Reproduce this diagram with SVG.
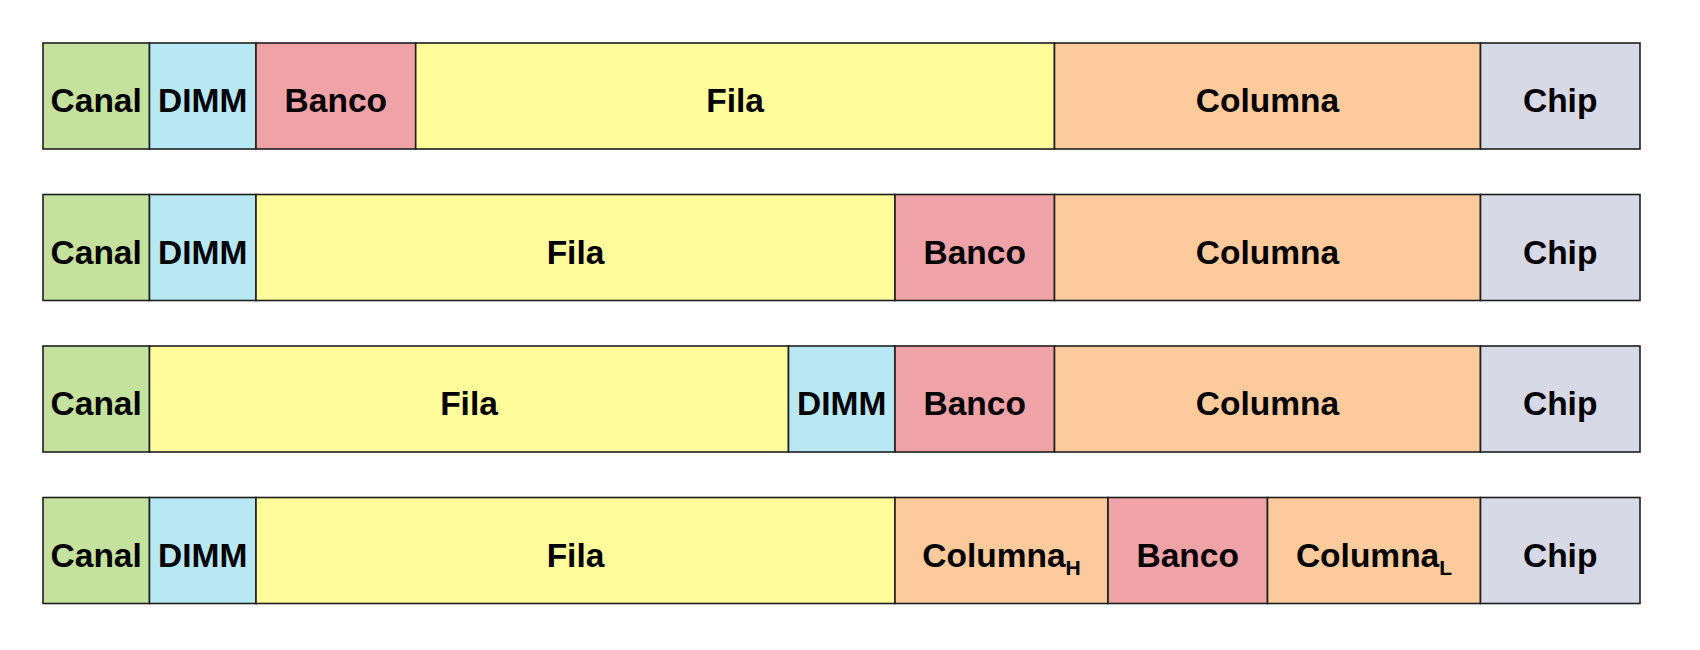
<svg xmlns="http://www.w3.org/2000/svg" width="1700" height="650" viewBox="0 0 1700 650">
<style>
.b{stroke:#1e1e1e;stroke-width:1.6}
.canal{fill:#C4E29D}
.dimm{fill:#B7E8F3}
.banco{fill:#F0A3A7}
.fila{fill:#FFFC9C}
.col{fill:#FDCA9C}
.chip{fill:#D8D9E6}
text{font-family:"Liberation Sans",Arial,sans-serif;font-weight:bold;font-size:33.5px;fill:#000;text-anchor:middle}
.sub{font-size:21px}
</style>
<rect width="1700" height="650" fill="#fff"/>
<g id="row1">
<g id="r1-canal"><rect class="b canal" x="43" y="43" width="106.5" height="106"/><text x="96.2" y="112">Canal</text></g>
<g id="r1-dimm"><rect class="b dimm" x="149.5" y="43" width="106.5" height="106"/><text x="202.7" y="112">DIMM</text></g>
<g id="r1-banco"><rect class="b banco" x="256" y="43" width="159.7" height="106"/><text x="335.8" y="112">Banco</text></g>
<g id="r1-fila"><rect class="b fila" x="415.7" y="43" width="638.8" height="106"/><text x="735.1" y="112">Fila</text></g>
<g id="r1-columna"><rect class="b col" x="1054.5" y="43" width="426" height="106"/><text x="1267.5" y="112">Columna</text></g>
<g id="r1-chip"><rect class="b chip" x="1480.5" y="43" width="159.5" height="106"/><text x="1560.2" y="112">Chip</text></g>
</g>
<g id="row2">
<g id="r2-canal"><rect class="b canal" x="43" y="194.5" width="106.5" height="106"/><text x="96.2" y="263.5">Canal</text></g>
<g id="r2-dimm"><rect class="b dimm" x="149.5" y="194.5" width="106.5" height="106"/><text x="202.7" y="263.5">DIMM</text></g>
<g id="r2-fila"><rect class="b fila" x="256" y="194.5" width="639" height="106"/><text x="575.5" y="263.5">Fila</text></g>
<g id="r2-banco"><rect class="b banco" x="895" y="194.5" width="159.5" height="106"/><text x="974.7" y="263.5">Banco</text></g>
<g id="r2-columna"><rect class="b col" x="1054.5" y="194.5" width="426" height="106"/><text x="1267.5" y="263.5">Columna</text></g>
<g id="r2-chip"><rect class="b chip" x="1480.5" y="194.5" width="159.5" height="106"/><text x="1560.2" y="263.5">Chip</text></g>
</g>
<g id="row3">
<g id="r3-canal"><rect class="b canal" x="43" y="346" width="106.5" height="106"/><text x="96.2" y="415">Canal</text></g>
<g id="r3-fila"><rect class="b fila" x="149.5" y="346" width="639" height="106"/><text x="469" y="415">Fila</text></g>
<g id="r3-dimm"><rect class="b dimm" x="788.5" y="346" width="106.5" height="106"/><text x="841.7" y="415">DIMM</text></g>
<g id="r3-banco"><rect class="b banco" x="895" y="346" width="159.5" height="106"/><text x="974.7" y="415">Banco</text></g>
<g id="r3-columna"><rect class="b col" x="1054.5" y="346" width="426" height="106"/><text x="1267.5" y="415">Columna</text></g>
<g id="r3-chip"><rect class="b chip" x="1480.5" y="346" width="159.5" height="106"/><text x="1560.2" y="415">Chip</text></g>
</g>
<g id="row4">
<g id="r4-canal"><rect class="b canal" x="43" y="497.5" width="106.5" height="106"/><text x="96.2" y="566.5">Canal</text></g>
<g id="r4-dimm"><rect class="b dimm" x="149.5" y="497.5" width="106.5" height="106"/><text x="202.7" y="566.5">DIMM</text></g>
<g id="r4-fila"><rect class="b fila" x="256" y="497.5" width="639" height="106"/><text x="575.5" y="566.5">Fila</text></g>
<g id="r4-columnaH"><rect class="b col" x="895" y="497.5" width="213" height="106"/><text x="1001.5" y="566.5">Columna<tspan class="sub" dy="8">H</tspan></text></g>
<g id="r4-banco"><rect class="b banco" x="1108" y="497.5" width="159.5" height="106"/><text x="1187.7" y="566.5">Banco</text></g>
<g id="r4-columnaL"><rect class="b col" x="1267.5" y="497.5" width="213" height="106"/><text x="1374" y="566.5">Columna<tspan class="sub" dy="8">L</tspan></text></g>
<g id="r4-chip"><rect class="b chip" x="1480.5" y="497.5" width="159.5" height="106"/><text x="1560.2" y="566.5">Chip</text></g>
</g>
<g id="connectors"/>
</svg>
